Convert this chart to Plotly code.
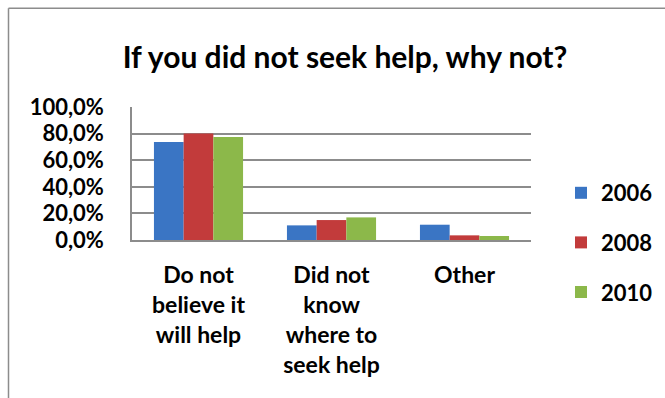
import plotly.graph_objects as go

categories = ["Do not<br>believe it<br>will help", "Did not<br>know<br>where to<br>seek help", "Other"]
years = ["2006", "2008", "2010"]
values_2006 = [73.7, 11.0, 11.5]
values_2008 = [80.0, 15.0, 3.5]
values_2010 = [77.5, 17.0, 3.0]
tick_vals = [0, 20, 40, 60, 80, 100]
tick_text = ["0,0%", "20,0%", "40,0%", "60,0%", "80,0%", "100,0%"]
colors = ["#3a75c4", "#c23b3b", "#8cb84a"]

W, H = 665, 398
L, R, T, B = 132, 531, 107.3, 239.7

fig = go.Figure()
for name, vals, col in zip(years, [values_2006, values_2008, values_2010], colors):
    fig.add_trace(go.Bar(x=categories, y=vals, name="<b>%s</b>" % name,
                         marker=dict(color=col, line=dict(width=0)), legendgroup=name))

font_family = "Lato"
fig.update_layout(
    width=W, height=H,
    margin=dict(l=L, r=W - R, t=T, b=H - B, autoexpand=False),
    paper_bgcolor="white", plot_bgcolor="white",
    barmode="group", bargap=0.33, bargroupgap=0,
    title=dict(text="<b>If you did not seek help, why not?</b>", x=345 / W, xanchor="center",
               y=1 - 57 / H, yanchor="middle",
               font=dict(family=font_family, size=30, color="black")),
    font=dict(family=font_family, color="black"),
    showlegend=True,
    legend=dict(x=(561 - L) / (R - L), xanchor="left", yref="container", y=1 - 172 / H, yanchor="top",
                font=dict(family=font_family, size=22, color="black"), maxheight=300,
                tracegroupgap=18, itemwidth=30, bgcolor="rgba(0,0,0,0)"),
)
fig.update_yaxes(range=[0, 100], tickvals=tick_vals, ticktext=["<b>%s</b>" % t for t in tick_text],
                 tickfont=dict(family=font_family, size=22, color="black"),
                 showgrid=True, gridcolor="#8c8c8c", gridwidth=1.5,
                 showline=True, linecolor="#8c8c8c", linewidth=1.5,
                 ticks="", ticklabelstandoff=22, zeroline=False, fixedrange=True)
fig.update_xaxes(tickvals=categories, ticktext=["<b>%s</b>" % c for c in categories],
                 tickfont=dict(family=font_family, size=23, color="black"),
                 showline=True, linecolor="#8c8c8c", linewidth=1.5, ticks="",
                 ticklabelstandoff=14, fixedrange=True)

# chart frame (outer border)
def px_x(px):
    return (px - L) / (R - L)

def px_y(py):
    return (B - py) / (B - T)

fig.add_shape(type="line", xref="paper", yref="paper", x0=px_x(8.5), x1=px_x(8.5), y0=px_y(9), y1=px_y(420),
              line=dict(color="#8c8c8c", width=1.5))
fig.add_shape(type="line", xref="paper", yref="paper", x0=px_x(8.5), x1=px_x(700), y0=px_y(9), y1=px_y(9),
              line=dict(color="#8c8c8c", width=1.5))

fig.write_html("out.html")
